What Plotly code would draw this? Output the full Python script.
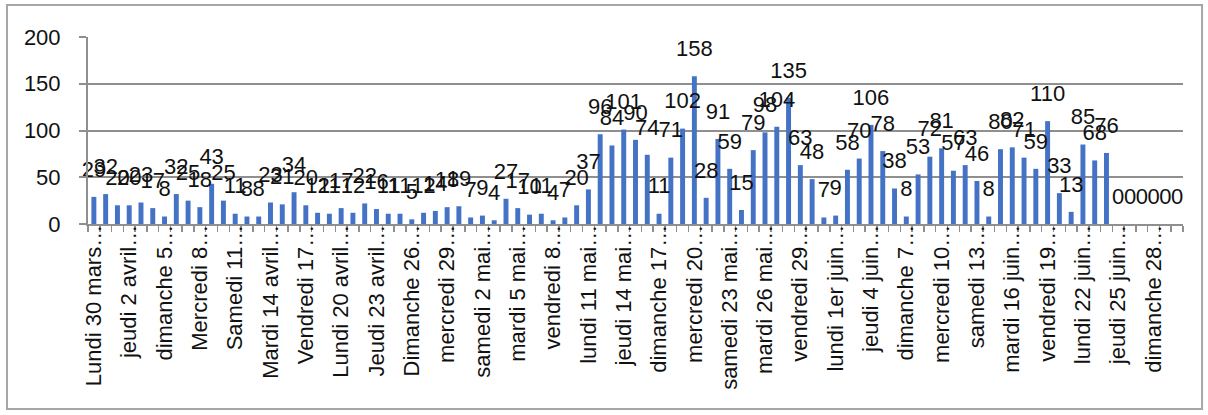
import plotly.graph_objects as go

categories = [
    "lundi 30 mars", "mardi 31 mars",
    "mercredi 1 avril", "jeudi 2 avril", "vendredi 3 avril", "samedi 4 avril", "dimanche 5 avril",
    "lundi 6 avril", "mardi 7 avril", "mercredi 8 avril", "jeudi 9 avril", "vendredi 10 avril",
    "samedi 11 avril", "dimanche 12 avril", "lundi 13 avril", "mardi 14 avril", "mercredi 15 avril",
    "jeudi 16 avril", "vendredi 17 avril", "samedi 18 avril", "dimanche 19 avril", "lundi 20 avril",
    "mardi 21 avril", "mercredi 22 avril", "jeudi 23 avril", "vendredi 24 avril", "samedi 25 avril",
    "dimanche 26 avril", "lundi 27 avril", "mardi 28 avril", "mercredi 29 avril", "jeudi 30 avril",
    "vendredi 1 mai", "samedi 2 mai", "dimanche 3 mai", "lundi 4 mai", "mardi 5 mai",
    "mercredi 6 mai", "jeudi 7 mai", "vendredi 8 mai", "samedi 9 mai", "dimanche 10 mai",
    "lundi 11 mai", "mardi 12 mai", "mercredi 13 mai", "jeudi 14 mai", "vendredi 15 mai",
    "samedi 16 mai", "dimanche 17 mai", "lundi 18 mai", "mardi 19 mai", "mercredi 20 mai",
    "jeudi 21 mai", "vendredi 22 mai", "samedi 23 mai", "dimanche 24 mai", "lundi 25 mai",
    "mardi 26 mai", "mercredi 27 mai", "jeudi 28 mai", "vendredi 29 mai", "samedi 30 mai",
    "dimanche 31 mai", "lundi 1er juin", "mardi 2 juin", "mercredi 3 juin", "jeudi 4 juin",
    "vendredi 5 juin", "samedi 6 juin", "dimanche 7 juin", "lundi 8 juin", "mardi 9 juin",
    "mercredi 10 juin", "jeudi 11 juin", "vendredi 12 juin", "samedi 13 juin", "dimanche 14 juin",
    "lundi 15 juin", "mardi 16 juin", "mercredi 17 juin", "jeudi 18 juin", "vendredi 19 juin",
    "samedi 20 juin", "dimanche 21 juin", "lundi 22 juin", "mardi 23 juin", "mercredi 24 juin",
    "jeudi 25 juin", "vendredi 26 juin", "samedi 27 juin", "dimanche 28 juin", "lundi 29 juin",
    "mardi 30 juin",
]

values = [
    29, 32, 20, 20, 23, 17, 8, 32, 25, 18,
    43, 25, 11, 8, 8, 23, 21, 34, 20, 12,
    11, 17, 12, 22, 16, 11, 11, 5, 12, 14,
    18, 19, 7, 9, 4, 27, 17, 10, 11, 4,
    7, 20, 37, 96, 84, 101, 90, 74, 11, 71,
    102, 158, 28, 91, 59, 15, 79, 98, 104, 135,
    63, 48, 7, 9, 58, 70, 106, 78, 38, 8,
    53, 72, 81, 57, 63, 46, 8, 80, 82, 71,
    59, 110, 33, 13, 85, 68, 76, 0, 0, 0,
    0, 0, 0,
]

tick_labels = [
    "Lundi 30 mars…", "jeudi 2 avril…", "dimanche 5…", "Mercredi 8…", "Samedi 11…",
    "Mardi 14 avril…", "Vendredi 17…", "Lundi 20 avril…", "Jeudi 23 avril…", "Dimanche 26…",
    "mercredi 29…", "samedi 2 mai…", "mardi 5 mai…", "vendredi 8…", "lundi 11 mai…",
    "jeudi 14 mai…", "dimanche 17…", "mercredi 20…", "samedi 23 mai…", "mardi 26 mai…",
    "vendredi 29…", "lundi 1er juin…", "jeudi 4 juin…", "dimanche 7…", "mercredi 10…",
    "samedi 13…", "mardi 16 juin…", "vendredi 19…", "lundi 22 juin…", "jeudi 25 juin…",
    "dimanche 28…",
]

label_step = 3
ticktext = []
for i, c in enumerate(categories):
    ticktext.append(tick_labels[i // label_step] if i % label_step == 0 else "")

FONT = "Liberation Sans"
GRID = "#8f8f8f"

fig = go.Figure()
fig.add_trace(go.Bar(
    x=categories, y=values,
    marker=dict(color="#4472C4", line=dict(width=0)),
    hoverinfo="skip",
))
fig.add_trace(go.Scatter(
    x=categories, y=values,
    mode="markers+text",
    text=[str(v) for v in values],
    textposition="top center",
    textfont=dict(family=FONT, size=22, color="#111111"),
    marker=dict(size=22, opacity=0),
    cliponaxis=False,
    hoverinfo="skip",
))

fig.update_layout(
    width=1208, height=415,
    margin=dict(l=88, r=25, t=37, b=191),
    paper_bgcolor="white", plot_bgcolor="white",
    showlegend=False,
    bargap=0.58,
    font=dict(family=FONT, size=22, color="#111111"),
    xaxis=dict(
        type="category",
        tickmode="array", tickvals=categories, ticktext=ticktext,
        tickson="boundaries",
        ticks="outside", ticklen=6, tickcolor=GRID, tickwidth=1.5,
        tickangle=-90,
        ticklabelstandoff=-10,
        tickfont=dict(family=FONT, size=22, color="#111111"),
        showline=True, linecolor=GRID, linewidth=2,
        showgrid=False,
        automargin=False,
        range=[-0.5, len(categories) - 0.5],
    ),
    yaxis=dict(
        range=[0, 200], dtick=50, tick0=0,
        showgrid=True, gridcolor=GRID, gridwidth=2,
        showline=True, linecolor=GRID, linewidth=2,
        ticks="outside", ticklen=7, tickcolor=GRID, tickwidth=2,
        ticklabelstandoff=14,
        tickfont=dict(family=FONT, size=22, color="#111111"),
        zeroline=False,
        automargin=False,
    ),
    shapes=[dict(
        type="rect", xref="paper", yref="paper",
        x0=-0.074, x1=1.0174, y0=-0.989, y1=1.171,
        line=dict(color="#a6a6a6", width=2), fillcolor="rgba(0,0,0,0)",
        layer="below",
    )],
)

fig.write_html(
    "out.html",
    config={"displayModeBar": False, "staticPlot": True},
    post_script="document.body.style.margin='0';",
)
